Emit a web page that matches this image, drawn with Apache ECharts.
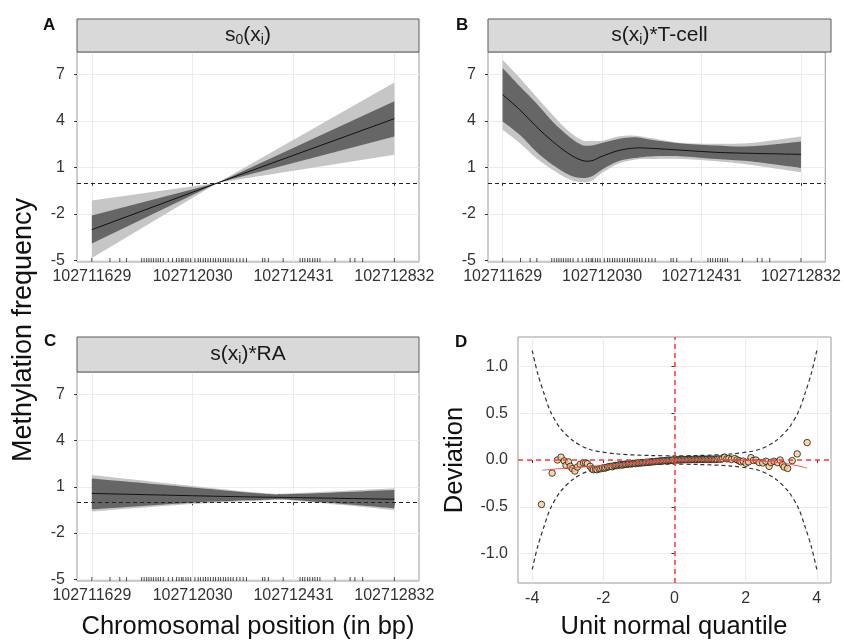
<!DOCTYPE html>
<html>
<head>
<meta charset="utf-8">
<script src="https://cdn.jsdelivr.net/npm/echarts@6/dist/echarts.min.js"></script>
<style>html,body{margin:0;padding:0;background:#fff}#c{width:844px;height:640px}</style>
</head>
<body>
<div id="c"></div>
<script>
// ---------------- data ----------------
const bpTicks = [102711629, 102712030, 102712431, 102712832];
const yTicksABC = [-5, -2, 1, 4, 7];
const yTicksD = [-1, -0.5, 0, 0.5, 1];
const xTicksD = [-4, -2, 0, 2, 4];

const rugPositions = [102711629, 102711701, 102711740, 102711767, 102711827, 102711837, 102711847, 102711856,
  102711865, 102711874, 102711884, 102711893, 102711902, 102711913, 102711933, 102711950, 102711966, 102711976,
  102711986, 102711992, 102712003, 102712012, 102712022, 102712039, 102712052, 102712061, 102712072, 102712081,
  102712091, 102712101, 102712112, 102712121, 102712132, 102712141, 102712152, 102712161, 102712171, 102712181,
  102712191, 102712205, 102712218, 102712231, 102712244, 102712308, 102712317, 102712331, 102712390, 102712457,
  102712467, 102712476, 102712487, 102712496, 102712507, 102712516, 102712526, 102712536, 102712596, 102712656,
  102712675, 102712706, 102712832];

// Panel A: s0(x)
const s0X       = [102711629, 102712130, 102712832];
const s0Mean    = [-3.03, 0, 4.15];
const s0DarkLo  = [-3.93, 0, 3.00];
const s0DarkHi  = [-2.12, 0, 5.27];
const s0LightLo = [-4.86, 0, 1.82];
const s0LightHi = [-1.15, 0, 6.49];

// Panel B: s(x)*T-cell
const tcX       = [102711629, 102711698, 102711764, 102711830, 102711896, 102711949, 102711989, 102712029, 102712095, 102712161, 102712227, 102712360, 102712492, 102712624, 102712832];
const tcMean    = [5.70, 4.73, 3.65, 2.68, 1.88, 1.45, 1.43, 1.71, 2.08, 2.25, 2.23, 2.10, 1.97, 1.91, 1.84];
const tcDarkLo  = [3.97, 3.11, 2.03, 1.17, 0.53, 0.31, 0.42, 0.85, 1.39, 1.60, 1.71, 1.71, 1.54, 1.39, 0.96];
const tcDarkHi  = [7.42, 6.24, 5.16, 3.97, 3.00, 2.45, 2.42, 2.57, 2.83, 2.94, 2.79, 2.53, 2.42, 2.36, 2.68];
const tcLightLo = [3.43, 2.57, 1.60, 0.85, 0.25, 0.03, 0.14, 0.63, 1.24, 1.50, 1.54, 1.54, 1.39, 1.17, 0.68];
const tcLightHi = [7.96, 6.78, 5.59, 4.41, 3.33, 2.76, 2.72, 2.72, 3.00, 3.05, 2.90, 2.57, 2.53, 2.57, 3.00];

// Panel C: s(x)*RA
const raX       = [102711629, 102712030, 102712300, 102712431, 102712832];
const raMean    = [0.57, 0.42, 0.33, 0.30, 0.19];
const raDarkLo  = [-0.46, -0.03, 0.14, 0.14, -0.40];
const raDarkHi  = [1.54, 0.96, 0.57, 0.53, 0.79];
const raLightLo = [-0.61, -0.12, 0.10, 0.10, -0.50];
const raLightHi = [1.76, 1.05, 0.61, 0.58, 0.90];

// Panel D: worm plot
const qqX = [-3.74,-3.44,-3.29,-3.19,-3.10,-3.05,-2.98,-2.93,-2.87,-2.80,-2.73,-2.65,-2.56,-2.50,-2.45,-2.37,-2.32,-2.28,-2.22,-2.18,
  -2.12,-2.07,-2.02,-1.97,-1.93,-1.88,-1.84,-1.79,-1.75,-1.70,-1.66,-1.62,-1.58,-1.54,-1.50,-1.46,-1.42,-1.38,-1.34,-1.30,
  -1.26,-1.22,-1.18,-1.14,-1.10,-1.06,-1.02,-0.98,-0.94,-0.90,-0.86,-0.82,-0.78,-0.74,-0.70,-0.66,-0.62,-0.58,-0.54,-0.50,
  -0.46,-0.42,-0.38,-0.34,-0.30,-0.26,-0.22,-0.18,-0.14,-0.10,-0.06,-0.02,
  0.04,0.08,0.12,0.16,0.20,0.24,0.28,0.32,0.36,0.40,0.44,0.48,0.52,0.56,0.60,0.64,0.68,0.72,0.76,0.80,0.84,0.88,0.92,0.96,
  1.00,1.04,1.08,1.12,1.16,1.20,1.25,1.30,1.35,1.41,1.47,1.53,1.60,1.69,1.76,1.82,1.87,1.93,2.01,2.08,2.15,2.22,2.29,2.38,
  2.48,2.57,2.66,2.71,2.80,2.90,2.97,3.04,3.08,3.18,3.31,3.45,3.73];
const qqY = [-0.475,-0.14,0.0,0.03,-0.01,-0.057,-0.02,-0.068,-0.093,-0.118,-0.075,-0.046,-0.032,-0.03,-0.039,-0.068,-0.095,-0.104,-0.10,-0.104,
  -0.095,-0.093,-0.085,-0.088,-0.082,-0.075,-0.072,-0.068,-0.072,-0.062,-0.058,-0.06,-0.055,-0.052,-0.05,-0.054,-0.048,-0.045,-0.046,-0.042,
  -0.04,-0.043,-0.038,-0.036,-0.038,-0.034,-0.032,-0.033,-0.03,-0.028,-0.029,-0.026,-0.024,-0.025,-0.022,-0.02,-0.018,-0.019,-0.016,-0.014,
  -0.015,-0.012,-0.01,-0.011,-0.008,-0.006,-0.007,-0.004,-0.003,-0.004,-0.001,0.0,
  0.002,0.0,0.003,0.001,0.004,0.002,0.005,0.003,0.006,0.004,0.006,0.004,0.007,0.005,0.007,0.005,0.008,0.006,0.008,0.006,0.009,0.007,0.009,0.006,
  0.009,0.007,0.01,0.006,0.009,0.007,0.012,0.008,0.014,0.03,0.012,0.016,0.006,0.016,0.002,-0.008,-0.02,-0.012,-0.035,-0.02,0.025,-0.005,0.0,-0.027,
  -0.032,-0.014,-0.068,-0.027,-0.014,-0.027,0.0,-0.05,-0.075,-0.09,-0.007,0.065,0.186];
const envX     = [-4.0, -3.85, -3.66, -3.49, -3.21, -2.83, -2.36, -1.61, -0.68, 0, 0.68, 1.61, 2.36, 2.83, 3.21, 3.49, 3.66, 3.85, 4.0];
const envUpper = [1.17, 0.93, 0.70, 0.52, 0.34, 0.20, 0.11, 0.065, 0.048, 0.045, 0.048, 0.065, 0.11, 0.20, 0.34, 0.52, 0.70, 0.93, 1.17];
const envLower = [-1.17, -0.93, -0.70, -0.52, -0.34, -0.20, -0.11, -0.065, -0.048, -0.045, -0.048, -0.065, -0.11, -0.20, -0.34, -0.52, -0.70, -0.93, -1.17];
const fitX = [-3.72, -3.0, -2.0, -1.0, 0.0, 1.0, 2.0, 3.0, 3.73];
const fitY = [-0.11, -0.085, -0.06, -0.03, -0.005, 0.005, -0.005, -0.03, -0.086];

// ---------------- styling / layout ----------------
const FONT = '"Liberation Sans", Arial, Helvetica, sans-serif';
const DARK = '#666666', LIGHT = '#c6c6c6';
const BP_MIN = 102711570, BP_MAX = 102712930;
const Y_MIN = -5.12, Y_MAX = 8.46;
const TICK_FS = 16;

const zip = (xs, ys) => xs.map((x, i) => [x, ys[i]]);

// path through pixel points (catmull-rom when smooth)
function pathThrough(pts, smooth, start) {
  let d = (start ? 'M' : 'L') + pts[0][0].toFixed(2) + ' ' + pts[0][1].toFixed(2);
  for (let i = 0; i < pts.length - 1; i++) {
    const p1 = pts[i], p2 = pts[i + 1];
    if (!smooth) { d += ' L' + p2[0].toFixed(2) + ' ' + p2[1].toFixed(2); continue; }
    const p0 = pts[i - 1] || p1, p3 = pts[i + 2] || p2;
    const c1 = [p1[0] + (p2[0] - p0[0]) / 6, p1[1] + (p2[1] - p0[1]) / 6];
    const c2 = [p2[0] - (p3[0] - p1[0]) / 6, p2[1] - (p3[1] - p1[1]) / 6];
    d += ' C' + c1.map(v => v.toFixed(2)).join(' ') + ' ' + c2.map(v => v.toFixed(2)).join(' ') + ' ' + p2[0].toFixed(2) + ' ' + p2[1].toFixed(2);
  }
  return d;
}

function bandSeries(i, xs, mean, dLo, dHi, lLo, lHi, smooth) {
  return {
    type: 'custom', xAxisIndex: i, yAxisIndex: i, silent: true, z: 2,
    data: xs.map((x, k) => [x, lLo[k], lHi[k]]),
    encode: {x: 0, y: [1, 2]},
    renderItem: function (params, api) {
      if (params.dataIndex !== 0) return null;
      const pts = ys => xs.map((x, k) => api.coord([x, ys[k]]));
      const band = (lo, hi) => {
        const up = pts(hi), dn = pts(lo).reverse();
        return pathThrough(up, smooth, true) + ' ' + pathThrough(dn, smooth, false) + ' Z';
      };
      return {
        type: 'group',
        children: [
          {type: 'path', shape: {pathData: band(lLo, lHi)}, style: {fill: LIGHT, stroke: null}},
          {type: 'path', shape: {pathData: band(dLo, dHi)}, style: {fill: DARK, stroke: null}},
          {type: 'path', shape: {pathData: pathThrough(pts(mean), smooth, true)}, style: {fill: null, stroke: '#111', lineWidth: 1}}
        ]
      };
    }
  };
}

function rugSeries(i) {
  return {type: 'scatter', xAxisIndex: i, yAxisIndex: i, silent: true, z: 4, symbol: 'rect', symbolSize: [1, 4], symbolOffset: [0, -2],
    itemStyle: {color: '#222'}, data: rugPositions.map(p => [p, Y_MIN]),
    markLine: {symbol: 'none', silent: true, label: {show: false}, lineStyle: {color: '#222', type: [4, 3], width: 1.1},
               data: [{yAxis: 0}]}};
}

const grids = [
  {left: 77, top: 52, width: 342, height: 210},
  {left: 488, top: 52, width: 343, height: 210},
  {left: 77, top: 372, width: 342, height: 209},
  {left: 518, top: 337, width: 313, height: 246}
].map(g => Object.assign({show: true, borderColor: '#9a9a9a', borderWidth: 1, backgroundColor: '#fff', containLabel: false}, g));

function gene_xAxis(i) {
  return {
    type: 'value', gridIndex: i, min: BP_MIN, max: BP_MAX,
    axisLine: {show: false},
    axisTick: {show: true, length: 3, lineStyle: {color: '#333'}, customValues: bpTicks},
    axisLabel: {customValues: bpTicks, formatter: v => String(v), color: '#333', fontSize: TICK_FS, fontFamily: FONT, margin: 7},
    splitLine: {show: true, lineStyle: {color: '#ebebeb', width: 1}}
  };
}
function gene_yAxis(i) {
  return {
    type: 'value', gridIndex: i, min: Y_MIN, max: Y_MAX,
    axisLine: {show: false},
    axisTick: {show: true, length: 3, lineStyle: {color: '#333'}, customValues: yTicksABC},
    axisLabel: {customValues: yTicksABC, color: '#333', fontSize: TICK_FS, fontFamily: FONT, margin: 12},
    splitLine: {show: true, lineStyle: {color: '#ebebeb', width: 1}}
  };
}

const series = [
  bandSeries(0, s0X, s0Mean, s0DarkLo, s0DarkHi, s0LightLo, s0LightHi, false), rugSeries(0),
  bandSeries(1, tcX, tcMean, tcDarkLo, tcDarkHi, tcLightLo, tcLightHi, true), rugSeries(1),
  bandSeries(2, raX, raMean, raDarkLo, raDarkHi, raLightLo, raLightHi, true), rugSeries(2),
  {type: 'line', xAxisIndex: 3, yAxisIndex: 3, symbol: 'none', smooth: 0.3, silent: true, data: zip(envX, envUpper),
   lineStyle: {color: '#333', width: 1.2, type: [4, 3]}},
  {type: 'line', xAxisIndex: 3, yAxisIndex: 3, symbol: 'none', smooth: 0.3, silent: true, data: zip(envX, envLower),
   lineStyle: {color: '#333', width: 1.2, type: [4, 3]},
   markLine: {symbol: 'none', silent: true, label: {show: false}, lineStyle: {color: '#ff3b3b', type: [5, 4], width: 1.5},
              data: [{xAxis: 0}, {yAxis: 0}]}},
  {type: 'scatter', xAxisIndex: 3, yAxisIndex: 3, silent: true, symbol: 'circle', symbolSize: 6.5, z: 3,
   itemStyle: {color: '#f6cd91', borderColor: '#1a1a1a', borderWidth: 1}, data: zip(qqX, qqY)},
  {type: 'line', xAxisIndex: 3, yAxisIndex: 3, symbol: 'none', smooth: 0.4, silent: true, data: zip(fitX, fitY),
   lineStyle: {color: '#ff4a4a', width: 1}, z: 4}
];

function strip(x, y, w, h) {
  return {type: 'rect', shape: {x: x, y: y, width: w, height: h}, style: {fill: '#d9d9d9', stroke: '#5a5a5a', lineWidth: 1}, z: 10};
}
const richStrip = {
  n: {fontSize: 21, lineHeight: 22, verticalAlign: 'top', fontFamily: FONT, fill: '#1a1a1a'},
  sub: {fontSize: 14, lineHeight: 32, fontFamily: FONT, fill: '#1a1a1a'}
};
function stripText(cx, cy, text) {
  return {type: 'text', x: cx, y: cy, z: 11, style: {text: text, rich: richStrip, align: 'center', verticalAlign: 'middle'}};
}
function letter(x, y, t) {
  return {type: 'text', x: x, y: y, z: 11, style: {text: t, font: 'bold 17px ' + FONT, fill: '#111', align: 'left', verticalAlign: 'top'}};
}
function bigLabel(x, y, t, rot, fs) {
  return {type: 'text', x: x, y: y, rotation: rot || 0, z: 11,
          style: {text: t, font: (fs || 25) + 'px ' + FONT, fill: '#111', align: 'center', verticalAlign: 'middle'}};
}

const graphic = [
  strip(77, 19, 342, 33), strip(488, 19, 343, 33), strip(77, 337, 342, 35),
  stripText(248, 40.5, '{n|s}{sub|0}{n|(x}{sub|i}{n|)}'),
  stripText(659.5, 40.5, '{n|s(x}{sub|i}{n|)*T-cell}'),
  stripText(248, 359.5, '{n|s(x}{sub|i}{n|)*RA}'),
  letter(43, 17, 'A'), letter(456, 17, 'B'), letter(44, 333, 'C'), letter(455, 334, 'D'),
  bigLabel(24, 330, 'Methylation frequency', Math.PI / 2, 27),
  bigLabel(248, 627, 'Chromosomal position (in bp)', 0, 25.5),
  bigLabel(674, 627, 'Unit normal quantile', 0, 25.5),
  bigLabel(455, 460, 'Deviation', Math.PI / 2, 25.5)
];

const option = {
  animation: false,
  backgroundColor: '#fff',
  textStyle: {fontFamily: FONT},
  grid: grids,
  xAxis: [gene_xAxis(0), gene_xAxis(1), gene_xAxis(2),
    {type: 'value', gridIndex: 3, min: -4.4, max: 4.4,
     axisLine: {show: false},
     axisTick: {show: true, length: 3, lineStyle: {color: '#333'}, customValues: xTicksD},
     axisLabel: {customValues: xTicksD, color: '#333', fontSize: TICK_FS, fontFamily: FONT, margin: 8},
     splitLine: {show: true, lineStyle: {color: '#ebebeb', width: 1}}}],
  yAxis: [gene_yAxis(0), gene_yAxis(1), gene_yAxis(2),
    {type: 'value', gridIndex: 3, min: -1.315, max: 1.315,
     axisLine: {show: false},
     axisTick: {show: true, length: 3, lineStyle: {color: '#333'}, customValues: yTicksD},
     axisLabel: {customValues: yTicksD, formatter: v => Number(v).toFixed(1), color: '#333', fontSize: TICK_FS, fontFamily: FONT, margin: 10},
     splitLine: {show: true, lineStyle: {color: '#ebebeb', width: 1}}}],
  series: series,
  graphic: graphic
};

const chart = echarts.init(document.getElementById('c'), null, {renderer: 'canvas'});
chart.setOption(option);
</script>
</body>
</html>
